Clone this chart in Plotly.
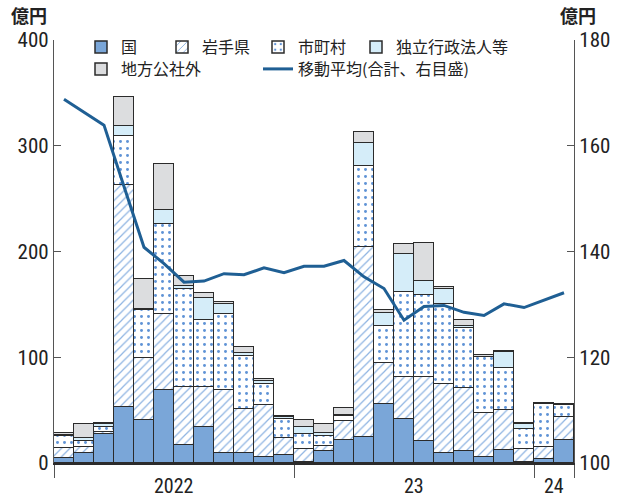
import plotly.graph_objects as go

months = list(range(26))  # Jan 2022 .. Feb 2024
year_labels = ["2022", "23", "24"]
year_pos = [5.5, 17.5, 24.5]
year_bounds = [-0.5, 11.5, 23.5, 25.5]

kuni = [4.5, 9.5, 27, 53, 41, 69, 17, 34, 9, 9, 5.5, 8, 0.5, 11, 22, 25, 56, 42, 21, 9.5, 11, 5.5, 12, 0.5, 4, 21.5]
iwate = [10, 6, 2, 210, 58, 72, 54.5, 38, 60, 42, 49, 16, 13, 5.5, 17.5, 179, 39, 39, 60.5, 65, 60, 41.5, 38.5, 13, 11.5, 22]
shichoson = [10.7, 5, 5, 46, 45.5, 85, 93.5, 63.5, 72, 50, 20.5, 18, 13.5, 9.5, 4.5, 77, 34.5, 81, 77, 75.5, 57, 53, 39, 19, 40, 11]
dokuritsu = [1.5, 3, 2.5, 10, 1, 13, 2.5, 21, 9, 3, 3, 1.5, 7, 2, 1, 21.5, 12.5, 35.5, 14, 14.5, 2, 0.7, 15, 4, 0.3, 1]
chiho = [1.5, 13, 1.5, 27, 28.5, 43.5, 9.5, 4.5, 2, 5.5, 1.5, 1, 7, 8.5, 7, 10.5, 3, 10, 36, 1.5, 5.5, 1, 1.5, 1, 0.5, 0.5]
moving_avg = [168.8, 166.4, 163.9, 152.3, 140.8, 137.7, 134.2, 134.4, 135.8, 135.6, 136.9, 136.0, 137.2, 137.2,
              138.3, 135.2, 133.0, 127.0, 129.6, 129.8, 128.5, 127.9, 130.1, 129.4, 130.8, 132.2]

names = ["国", "岩手県", "市町村", "独立行政法人等", "地方公社外", "移動平均(合計、右目盛)"]

OUT = "#2b2b2b"
JP = "Noto Sans CJK JP"
NUM = "Liberation Sans Narrow, Roboto Condensed, Liberation Sans, sans-serif"

W, H = 621, 497
L, R, T, B = 54, 47, 40, 34
PW, PH = W - L - R, H - T - B


def px_x(p):
    return (p - L) / PW


def px_y(p):
    return (H - B - p) / PH


fig = go.Figure()


def bar(y, name, legend, color, pattern=None):
    m = dict(color=color, line=dict(color=OUT, width=1.5))
    if pattern:
        m["pattern"] = pattern
    fig.add_trace(go.Bar(x=months, y=y, name=name, marker=m, legend=legend, showlegend=True))


bar(kuni, names[0], "legend", "#7aa6d8")
bar(iwate, names[1], "legend2", "white",
    dict(shape="/", fgcolor="#8db3e2", bgcolor="white", size=6, solidity=0.2,
         fillmode="replace", fgopacity=1))
bar(shichoson, names[2], "legend3", "white",
    dict(shape=".", fgcolor="#5f93d6", bgcolor="white", size=7, solidity=0.14,
         fillmode="replace", fgopacity=1))
bar(dokuritsu, names[3], "legend4", "#d5edf9")
bar(chiho, names[4], "legend5", "#dcdddf")

fig.add_trace(go.Scatter(x=months, y=moving_avg, name=names[5], mode="lines",
                         line=dict(color="#1f5f94", width=3), yaxis="y2", legend="legend6",
                         showlegend=True))


def leg(x, y):
    return dict(x=px_x(x), y=px_y(y), xanchor="left", yanchor="middle",
                bgcolor="rgba(0,0,0,0)", visible=True,
                font=dict(family=JP, size=16, color="#222"), itemwidth=30,
                traceorder="normal")


fig.update_layout(
    width=W, height=H, showlegend=True,
    margin=dict(l=L, r=R, t=T, b=B, autoexpand=False),
    paper_bgcolor="white", plot_bgcolor="white",
    barmode="stack", bargap=0,
    legend=leg(81, 47), legend2=leg(162, 47), legend3=leg(258, 47),
    legend4=leg(356, 47), legend5=leg(81, 69), legend6=leg(258, 69),
    xaxis=dict(range=[-0.5, 25.5], showgrid=False, zeroline=False,
               showline=True, linecolor=OUT, linewidth=1.5,
               tickmode="array", tickvals=year_bounds, ticktext=["", "", "", ""],
               ticks="outside", ticklen=13, tickcolor="#555", tickwidth=1.2),
    yaxis=dict(range=[0, 400], dtick=100, showgrid=False, zeroline=False,
               showline=True, linecolor="#555", linewidth=1.3,
               ticks="inside", ticklen=7, tickcolor="#555",
               tickfont=dict(family=NUM, size=21, color="#222")),
    yaxis2=dict(range=[100, 180], dtick=20, overlaying="y", side="right",
                showgrid=False, zeroline=False,
                showline=True, linecolor="#555", linewidth=1.3,
                ticks="inside", ticklen=7, tickcolor="#555",
                tickfont=dict(family=NUM, size=21, color="#222")),
)

for lab, pos in zip(year_labels, year_pos):
    fig.add_annotation(x=pos, y=px_y(486), xref="x", yref="paper", text=lab, showarrow=False,
                       yanchor="middle", font=dict(family=NUM, size=20, color="#222"))

for xc in (29, 578):
    fig.add_annotation(x=px_x(xc), y=px_y(15), xref="paper", yref="paper", text="<b>億円</b>",
                       showarrow=False, xanchor="center", yanchor="middle",
                       font=dict(family=JP, size=18, color="#222"))

fig.write_html("out.html", config={"displayModeBar": False},
               post_script="document.body.style.margin='0px';")
